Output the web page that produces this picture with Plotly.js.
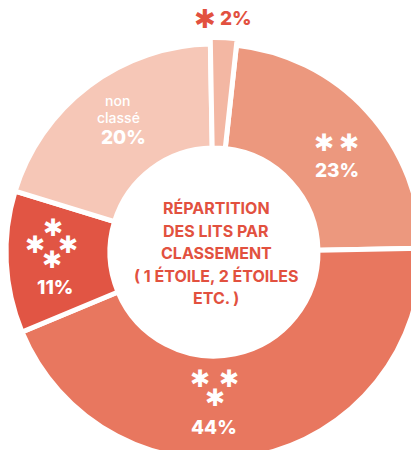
<!DOCTYPE html>
<html>
<head>
<meta charset="utf-8">
<script src="https://cdn.plot.ly/plotly-3.0.1.min.js"></script>
<style>
html, body { margin: 0; padding: 0; overflow: hidden; background: #fff; width: 411px; height: 450px; }
#chart { position: absolute; left: -20px; top: -20px; width: 460px; height: 500px; }
</style>
</head>
<body>
<div id="chart"></div>
<script>
// data
var categories = ['1 étoile', '2 étoiles', '3 étoiles', '4 étoiles', 'non classé'];
var shares = [2, 23, 44, 11, 20];
var sliceColors = ['#F3B7A3', '#EC987E', '#E8775F', '#E15544', '#F6C7B7'];
var centerLines = ['RÉPARTITION', 'DES LITS PAR', 'CLASSEMENT', '( 1 ÉTOILE, 2 ÉTOILES', 'ETC. )'];

var RED = '#E2513F';
var STAR = '\u2731';
var FONT = 'Inter';

// the div is bigger than the window and shifted, so the donut gets cut on the right / bottom
var W = 460, H = 500, OFF = 20;
function px(x) { return (x + OFF) / W; }
function py(y) { return 1 - (y + OFF) / H; }
var cx = 214, cy = 252;
function dom(r) {
    return { x: [px(cx - r), px(cx + r)], y: [py(cy + r), py(cy - r)] };
}

// main ring
var ring = {
    type: 'pie',
    labels: categories,
    values: shares,
    sort: false,
    direction: 'clockwise',
    rotation: -1,
    hole: 104 / 208,
    domain: dom(208),
    marker: { colors: sliceColors, line: { color: '#fff', width: 5 } },
    textinfo: 'none',
    hoverinfo: 'label+percent',
    showlegend: false
};

// 1 star slice sticks out a bit further
var r2 = 214.5;
var oneStar = {
    type: 'pie',
    labels: categories,
    values: shares,
    sort: false,
    direction: 'clockwise',
    rotation: -1,
    hole: 104 / r2,
    domain: dom(r2),
    marker: {
        colors: sliceColors.map(function (c, i) { return i === 0 ? c : 'rgba(0,0,0,0)'; }),
        line: { color: '#fff', width: shares.map(function (v, i) { return i === 0 ? 5 : 0; }) }
    },
    textinfo: 'none',
    hoverinfo: 'skip',
    showlegend: false
};

function note(x, y, text, size, color, weight, family) {
    return {
        xref: 'paper', yref: 'paper', x: px(x), y: py(y),
        xanchor: 'center', yanchor: 'middle',
        text: text, showarrow: false,
        font: { family: family || FONT, size: size, color: color, weight: weight || 'bold' }
    };
}
function star(x, y, color, size) {
    return note(x, y, STAR, size || 24, color || '#fff', 'bold', 'DejaVu Sans');
}

var ann = [];

// center title
centerLines.forEach(function (t, i) {
    ann.push(note(216, 208 + i * 22.5, t, 16, RED, 700));
});

// 1 star, outside
ann.push(star(205, 19, RED, 26));
ann.push(note(236, 19, shares[0] + '%', 19, RED, 800));

// 2 stars
ann.push(star(324, 143));
ann.push(star(349, 143));
ann.push(note(337, 170, shares[1] + '%', 19, '#fff', 800));

// 3 stars
ann.push(star(200, 379));
ann.push(star(229, 379));
ann.push(star(215, 398));
ann.push(note(214, 427, shares[2] + '%', 19, '#fff', 800));

// 4 stars
ann.push(star(53, 228));
ann.push(star(35, 245));
ann.push(star(68, 245));
ann.push(star(52, 260));
ann.push(note(55, 287, shares[3] + '%', 19, '#fff', 800));

// non classé
ann.push(note(117, 100, 'non', 14, '#fff', 500));
ann.push(note(118, 117, 'classé', 14, '#fff', 500));
ann.push(note(123, 137, shares[4] + '%', 19, '#fff', 800));

var layout = {
    width: W,
    height: H,
    margin: { t: 0, l: 0, r: 0, b: 0 },
    paper_bgcolor: '#fff',
    annotations: ann
};

Plotly.newPlot('chart', [ring, oneStar], layout, { displayModeBar: false, staticPlot: true });
</script>
</body>
</html>
